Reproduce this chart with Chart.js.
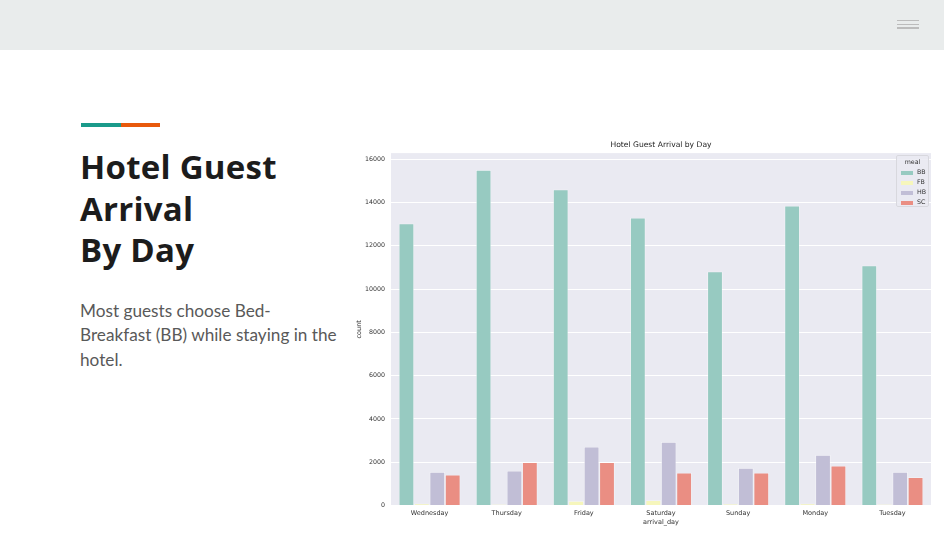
<!DOCTYPE html>
<html>
<head>
<meta charset="utf-8">
<script src="https://cdn.jsdelivr.net/npm/chart.js@4/dist/chart.umd.min.js"></script>
<style>
  html,body{margin:0;padding:0;background:#fff;width:944px;height:534px;overflow:hidden;position:relative;}
  #topbar{position:absolute;left:0;top:0;width:944px;height:50px;background:#e9ecec;}
  .hb{position:absolute;left:897px;width:22px;height:1.5px;background:#bcbcbc;}
  #accent1{position:absolute;left:81px;top:123px;width:40px;height:4px;background:#1a9a8a;}
  #accent2{position:absolute;left:121px;top:123px;width:39px;height:4px;background:#e8590c;}
  #heading{position:absolute;left:80px;top:146px;margin:0;font-family:"Open Sans",sans-serif;font-weight:700;font-size:33px;line-height:41.5px;letter-spacing:0.25px;color:#1c1c1c;white-space:nowrap;}
  #para{position:absolute;left:80px;top:299px;margin:0;font-family:Lato,sans-serif;font-size:17.2px;line-height:24.3px;color:#595959;white-space:nowrap;}
  #chartbox{position:absolute;left:340px;top:135px;width:600px;height:395px;}
  #legend{position:absolute;left:896px;top:155px;width:33px;height:52px;box-sizing:border-box;border:1px solid #d8d8de;border-radius:2px;background:rgba(234,234,242,0.85);font-family:"DejaVu Sans",sans-serif;font-size:6.3px;color:#333;}
  #legend .lt{text-align:center;margin-top:2px;height:10px;line-height:8px;}
  #legend .row{position:relative;height:10px;line-height:8px;}
  #legend .sw{position:absolute;left:4px;top:2.5px;width:12px;height:4px;}
  #legend .lb{position:absolute;left:20px;top:0;}
</style>
</head>
<body>
<div id="topbar"></div>
<div class="hb" style="top:19.5px"></div>
<div class="hb" style="top:23.5px"></div>
<div class="hb" style="top:27px"></div>
<div id="accent1"></div><div id="accent2"></div>
<h1 id="heading">Hotel Guest<br>Arrival<br>By Day</h1>
<p id="para">Most guests choose Bed-<br>Breakfast (BB) while staying in the<br>hotel.</p>
<div id="chartbox"><canvas id="c" width="600" height="395"></canvas></div>
<div id="legend"></div>
<script>
const days = ["Wednesday","Thursday","Friday","Saturday","Sunday","Monday","Tuesday"];
const mealBB = [13030, 15500, 14600, 13300, 10810, 13850, 11090];
const mealFB = [100, 60, 210, 245, 70, 100, 60];
const mealHB = [1550, 1610, 2720, 2940, 1740, 2340, 1550];
const mealSC = [1430, 2010, 2010, 1520, 1520, 1845, 1310];
const mealLabels = ["BB","FB","HB","SC"];
const yTicks = [0,2000,4000,6000,8000,10000,12000,14000,16000];

const colors = ["#97cac1","#f6f6bc","#c1bed6","#ea8e83"];
const series = [mealBB, mealFB, mealHB, mealSC];

const plotBg = {
  id:'plotBg',
  beforeDraw(chart){
    const a = chart.chartArea, ctx = chart.ctx;
    ctx.save(); ctx.fillStyle = '#eaeaf2';
    ctx.fillRect(a.left, a.top, a.right-a.left, a.bottom-a.top);
    ctx.restore();
  }
};

const chart = new Chart(document.getElementById('c'), {
  type:'bar',
  data:{
    labels: days,
    datasets: mealLabels.map((m,i)=>({
      label:m, data:series[i], backgroundColor:colors[i],
      borderColor:'rgba(255,255,255,0.5)', borderWidth:0.8,
      categoryPercentage:0.8, barPercentage:1.0
    }))
  },
  options:{
    responsive:false, animation:false,
    layout:{padding:{left:0,right:9,top:0,bottom:0}},
    plugins:{
      legend:{display:false},
      tooltip:{enabled:false},
      title:{display:true,fullSize:false,text:'Hotel Guest Arrival by Day',color:'#262626',
        font:{family:'DejaVu Sans',size:7.6,weight:'normal'},padding:{top:5,bottom:4}}
    },
    scales:{
      x:{
        grid:{display:false,drawTicks:false},
        border:{display:false},
        ticks:{color:'#333',font:{family:'DejaVu Sans',size:6.5},padding:4,maxRotation:0},
        title:{display:true,text:'arrival_day',color:'#333',font:{family:'DejaVu Sans',size:6.5},padding:{top:0,bottom:4}},
        afterFit(s){ s.height = 24.4; }
      },
      y:{
        min:0, max:16280,
        grid:{color:'#ffffff',lineWidth:1,drawTicks:false},
        border:{display:false},
        ticks:{color:'#333',font:{family:'DejaVu Sans',size:6.3},padding:6,stepSize:2000,
          callback:(v)=>String(v)},
        afterBuildTicks(s){ s.ticks = yTicks.map(v=>({value:v})); },
        title:{display:true,text:'count',color:'#333',font:{family:'DejaVu Sans',size:6.5},padding:{top:15,bottom:0}},
        afterFit(s){ s.width = 51; }
      }
    }
  },
  plugins:[plotBg]
});

const lg = document.getElementById('legend');
let html = '<div class="lt">meal</div>';
chart.data.datasets.forEach(ds=>{
  html += '<div class="row"><span class="sw" style="background:'+ds.backgroundColor+'"></span><span class="lb">'+ds.label+'</span></div>';
});
lg.innerHTML = html;
</script>
</body>
</html>
